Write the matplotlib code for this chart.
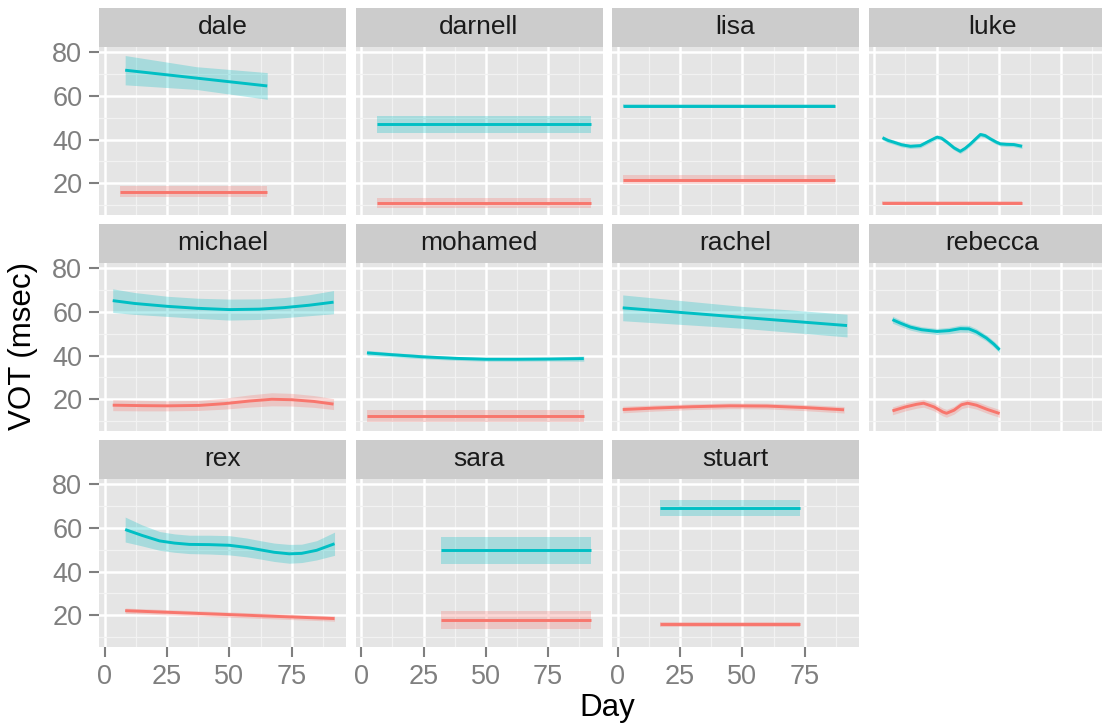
import matplotlib
matplotlib.use('Agg')
import matplotlib.pyplot as plt

plt.rcParams['font.family'] = ['Liberation Sans', 'DejaVu Sans']

speakers = ['dale', 'darnell', 'lisa', 'luke', 'michael', 'mohamed',
            'rachel', 'rebecca', 'rex', 'sara', 'stuart']

# voiceless stops (teal): smoothed VOT by day, with half-width of the band
vl_day = {
    'dale': [8.2, 36.7, 65.2],
    'darnell': [6.3, 92.2],
    'lisa': [2.0, 87.0],
    'luke': [3.3, 5.5, 7.8, 11.0, 14.5, 18.5, 21.5, 25.2, 27.0, 29.2, 32.0, 34.5,
             36.5, 38.6, 41.0, 42.6, 44.5, 46.6, 49.0, 50.6, 53.0, 56.0, 59.3],
    'michael': [3.2, 12.0, 25.0, 37.0, 50.0, 62.0, 72.0, 82.0, 91.8],
    'mohamed': [2.3, 12.0, 25.0, 38.0, 50.0, 63.0, 76.0, 89.3],
    'rachel': [2.0, 49.5, 92.0],
    'rebecca': [7.3, 10.5, 14.5, 19.0, 25.2, 30.0, 34.5, 38.0, 41.0, 45.0, 48.0, 50.3],
    'rex': [8.2, 15.0, 22.0, 28.0, 34.0, 42.0, 50.0, 57.0, 62.0, 68.0, 74.0, 79.0,
            85.0, 92.2],
    'sara': [32.1, 92.2],
    'stuart': [17.1, 73.2],
}
vl_vot = {
    'dale': [71.7, 68.1, 64.5],
    'darnell': [46.9, 46.9],
    'lisa': [55.5, 55.5],
    'luke': [40.8, 39.6, 38.8, 37.6, 36.9, 37.2, 39.0, 41.1, 40.6, 38.8, 36.2, 34.6,
             36.0, 38.0, 40.6, 42.3, 41.8, 40.3, 38.8, 38.0, 37.8, 37.7, 36.9],
    'michael': [65.1, 63.8, 62.5, 61.6, 61.0, 61.2, 61.9, 63.0, 64.4],
    'mohamed': [41.2, 40.4, 39.4, 38.7, 38.3, 38.3, 38.4, 38.6],
    'rachel': [61.8, 57.5, 53.7],
    'rebecca': [56.4, 54.8, 53.0, 51.8, 51.0, 51.4, 52.3, 52.2, 50.8, 48.0, 45.2, 42.6],
    'rex': [59.2, 56.5, 54.0, 53.0, 52.4, 52.3, 52.0, 51.0, 50.0, 48.8, 48.1, 48.3,
            49.7, 52.7],
    'sara': [49.7, 49.7],
    'stuart': [69.1, 69.1],
}
vl_ci = {
    'dale': [6.7, 5.2, 6.1],
    'darnell': [4.0, 4.0],
    'lisa': [0.8, 0.8],
    'luke': [1.0] * 23,
    'michael': [5.4, 5.0, 4.6, 4.6, 4.8, 4.7, 4.6, 4.8, 5.3],
    'mohamed': [1.2, 1.0, 0.9, 0.9, 0.9, 0.9, 0.9, 1.2],
    'rachel': [5.9, 5.0, 5.2],
    'rebecca': [1.6, 1.5, 1.4, 1.4, 1.4, 1.5, 1.6, 1.6, 1.5, 1.4, 1.4, 1.4],
    'rex': [5.7, 4.8, 4.3, 4.2, 4.2, 4.3, 4.4, 4.3, 4.2, 4.2, 4.3, 4.2, 4.4, 5.3],
    'sara': [6.3, 6.3],
    'stuart': [3.8, 3.8],
}

# voiced stops (salmon)
vd_day = {
    'dale': [6.2, 65.2],
    'darnell': [6.3, 92.2],
    'lisa': [2.0, 87.0],
    'luke': [3.3, 59.3],
    'michael': [3.2, 15.0, 25.0, 38.0, 48.0, 58.0, 67.0, 75.0, 84.0, 91.8],
    'mohamed': [2.3, 89.3],
    'rachel': [2.0, 15.0, 30.0, 45.0, 60.0, 75.0, 90.8],
    'rebecca': [7.3, 12.5, 17.0, 19.8, 24.0, 27.5, 29.0, 32.0, 35.0, 37.5, 41.0, 45.5, 50.3],
    'rex': [8.2, 92.2],
    'sara': [32.1, 92.2],
    'stuart': [17.1, 73.2],
}
vd_vot = {
    'dale': [16.2, 16.2],
    'darnell': [11.0, 11.0],
    'lisa': [21.7, 21.7],
    'luke': [11.2, 11.2],
    'michael': [17.3, 17.1, 17.0, 17.2, 18.0, 19.2, 20.0, 19.8, 19.0, 17.8],
    'mohamed': [12.4, 12.4],
    'rachel': [15.3, 16.0, 16.6, 17.0, 16.9, 16.2, 15.2],
    'rebecca': [14.7, 16.5, 17.7, 18.2, 16.5, 14.2, 13.6, 15.0, 17.5, 18.2, 17.3, 15.3, 13.5],
    'rex': [22.1, 18.5],
    'sara': [17.9, 17.9],
    'stuart': [15.9, 15.9],
}
vd_ci = {
    'dale': [2.5, 2.5],
    'darnell': [2.3, 2.3],
    'lisa': [1.9, 1.9],
    'luke': [0.7, 0.7],
    'michael': [2.5, 2.4, 2.3, 2.3, 2.5, 2.8, 3.0, 2.9, 2.7, 2.5],
    'mohamed': [2.8, 2.8],
    'rachel': [1.5, 1.4, 1.3, 1.3, 1.3, 1.4, 1.5],
    'rebecca': [1.8] * 13,
    'rex': [1.2, 1.2],
    'sara': [4.0, 4.0],
    'stuart': [1.2, 1.2],
}

x_ticks = [0, 25, 50, 75]
y_ticks = [20, 40, 60, 80]

TEAL = '#00BFC4'
SALMON = '#F8766D'

W, H = 1102, 723
fig = plt.figure(figsize=(W / 100, H / 100), dpi=100)


def px_axes(left, top, width, height):
    return fig.add_axes([left / W, 1 - (top + height) / H, width / W, height / H])


col_left = [99, 355.5, 612, 868.5]
row_top = [47, 263, 479]
panel_w, panel_h, strip_h = 247, 168, 39

for i, name in enumerate(speakers):
    r, c = divmod(i, 4)
    ax = px_axes(col_left[c], row_top[r], panel_w, panel_h)
    ax.set_facecolor('#E5E5E5')
    ax.set_xlim(-2.3, 96.8)
    ax.set_ylim(5.5, 82.3)
    ax.set_xticks(x_ticks)
    ax.set_yticks(y_ticks)
    ax.set_xticks([12.5, 37.5, 62.5, 87.5], minor=True)
    ax.set_yticks([10, 30, 50, 70], minor=True)
    ax.grid(which='major', color='white', lw=1.8)
    ax.grid(which='minor', color='#F2F2F2', lw=0.9)
    ax.set_axisbelow(True)
    for s in ax.spines.values():
        s.set_visible(False)
    ax.tick_params(which='minor', length=0)
    ax.tick_params(which='major', length=7, width=1.5, color='#7F7F7F',
                   labelcolor='#7F7F7F', labelsize=19.5, pad=5)
    if r != 2:
        ax.tick_params(axis='x', bottom=False, labelbottom=False)
    if c != 0:
        ax.tick_params(axis='y', left=False, labelleft=False)

    for days, vot, ci, col in [(vd_day[name], vd_vot[name], vd_ci[name], SALMON),
                               (vl_day[name], vl_vot[name], vl_ci[name], TEAL)]:
        lo = [v - e for v, e in zip(vot, ci)]
        hi = [v + e for v, e in zip(vot, ci)]
        ax.fill_between(days, lo, hi, color=col, alpha=0.27, lw=0)
        ax.plot(days, vot, color=col, lw=2.1, solid_capstyle='butt',
                solid_joinstyle='round')

    sax = px_axes(col_left[c], row_top[r] - strip_h, panel_w, strip_h)
    sax.set_facecolor('#CCCCCC')
    sax.set_xticks([])
    sax.set_yticks([])
    for s in sax.spines.values():
        s.set_visible(False)
    sax.text(0.5, 0.5, name, ha='center', va='center', fontsize=19,
             color='#1A1A1A', transform=sax.transAxes)

fig.text(607 / W, 1 - 716 / H, 'Day', ha='center', va='baseline', fontsize=22.5)
fig.text(23 / W, 1 - 346 / H, 'VOT (msec)', ha='center', va='center',
         rotation=90, fontsize=22.5)

fig.savefig('out.png', dpi=100)
